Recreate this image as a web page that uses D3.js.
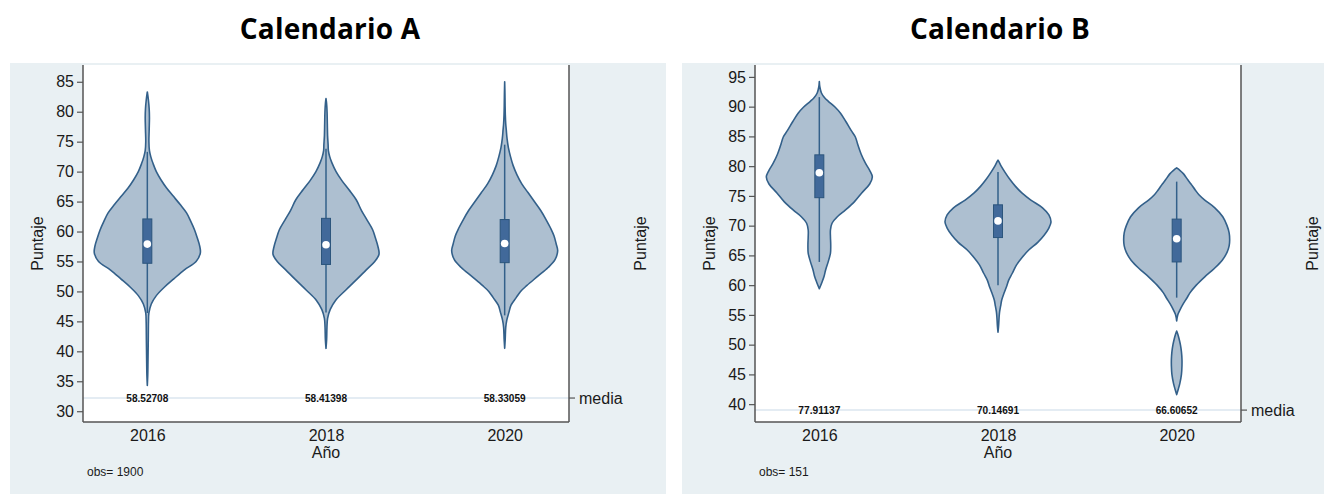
<!DOCTYPE html>
<html><head><meta charset="utf-8">
<script src="https://cdn.jsdelivr.net/npm/d3@7"></script>
<style>
html,body{margin:0;padding:0;background:#fff;}
svg{display:block;}
</style>
</head><body>
<svg id="chart" width="1324" height="494"></svg>
<script>
// ---------------- DATA ----------------
const years = [2016, 2018, 2020];
const yearLabels = ["2016", "2018", "2020"];
const titles = ["Calendario A", "Calendario B"];
const obsCounts = ["obs= 1900", "obs= 151"];
const meanLabelsA = ["58.52708", "58.41398", "58.33059"];
const meanLabelsB = ["77.91137", "70.14691", "66.60652"];
const meanLevelA = 32.2;   // score level where the "media" row sits
const meanLevelB = 39.0;
const yDomainA = [28.2, 87.8];
const yDomainB = [37.0, 97.0];
const yTicksA = [30, 35, 40, 45, 50, 55, 60, 65, 70, 75, 80, 85];
const yTicksB = [40, 45, 50, 55, 60, 65, 70, 75, 80, 85, 90, 95];

// box stats per year: [whiskerLow, q1, median, q3, whiskerHigh]
const boxA = [
  [46.4, 54.7, 57.9, 62.1, 73.3],
  [46.5, 54.5, 57.8, 62.2, 73.8],
  [46.0, 54.8, 58.0, 62.0, 74.5]
];
const boxB = [
  [63.9, 74.7, 78.9, 81.9, 91.6],
  [60.0, 68.0, 70.8, 73.5, 79.0],
  [57.9, 63.9, 67.8, 71.1, 77.4]
];

// relative kernel density profiles [score, density]
const densA2016 = [[34.3,0],[36,0.008],[38,0.012],[40,0.015],[42,0.018],[44,0.02],[45,0.022],[46.4,0.03],[47.9,0.075],[49.3,0.17],[50.7,0.32],[52.1,0.5],[53.6,0.7],[55,0.92],[56.4,1.0],[57.5,0.99],[59,0.94],[60.3,0.89],[61.7,0.82],[63.1,0.74],[64.5,0.62],[66,0.48],[67.3,0.36],[68.6,0.26],[70,0.17],[71.3,0.11],[72.5,0.065],[73.5,0.04],[75,0.03],[77,0.035],[79,0.04],[80.5,0.035],[82,0.02],[83.3,0]];
const densA2018 = [[40.5,0],[42,0.012],[44,0.018],[45.5,0.03],[47,0.08],[48.5,0.18],[50.2,0.37],[52,0.58],[53.6,0.76],[55,0.92],[56.2,1.0],[57.5,0.98],[59,0.93],[60.3,0.88],[62,0.77],[63.5,0.67],[65.3,0.57],[67,0.43],[68.5,0.3],[70,0.19],[71.5,0.11],[72.5,0.07],[73.5,0.045],[74.5,0.04],[76,0.03],[78,0.025],[80,0.02],[81.5,0.01],[82.2,0]];
const densA2020 = [[40.5,0],[42,0.01],[44,0.02],[45.2,0.04],[46.5,0.08],[47.7,0.12],[49,0.22],[50,0.3],[51,0.42],[52.5,0.62],[54,0.82],[55.3,0.95],[56.8,1.0],[58,0.97],[59.3,0.93],[60.5,0.87],[62,0.78],[63.5,0.68],[65,0.56],[66.5,0.44],[68,0.32],[69.5,0.23],[71,0.16],[72.5,0.11],[74,0.07],[75.5,0.045],[77,0.03],[78,0.02],[79.5,0.012],[81,0.008],[83,0.005],[85,0]];
const densB2016 = [[59.4,0],[60.5,0.05],[61.5,0.09],[62.6,0.12],[64,0.17],[65.4,0.21],[66.8,0.215],[68.1,0.21],[69.3,0.21],[70.4,0.24],[71.5,0.34],[72.6,0.49],[74,0.66],[75.5,0.8],[77,0.95],[78.2,1.0],[79.3,0.95],[80.5,0.87],[82,0.79],[83.5,0.73],[84.9,0.68],[86,0.6],[87.5,0.5],[88.9,0.4],[89.9,0.3],[90.9,0.17],[91.5,0.1],[92.3,0.04],[93.3,0.01],[94.2,0]];
const densB2018 = [[52.1,0],[53,0.01],[54.5,0.02],[55.5,0.03],[56.5,0.05],[57.5,0.07],[58.8,0.12],[60,0.17],[60.8,0.2],[62,0.27],[63.4,0.35],[64.6,0.45],[65.9,0.58],[67.2,0.75],[68.4,0.87],[69.6,0.96],[70.6,1.0],[71.8,0.96],[73,0.84],[74.3,0.62],[75.5,0.45],[76.6,0.33],[77.7,0.23],[79,0.13],[80,0.06],[80.7,0.02],[81,0]];
const densB2020 = [[41.6,0],[42.5,0.03],[43.5,0.06],[45,0.09],[46.5,0.1],[47.5,0.1],[48.8,0.09],[50,0.07],[51,0.045],[51.8,0.02],[52.3,0],[53.2,0],[54.0,0],[55,0.02],[55.8,0.06],[56.8,0.12],[57.8,0.19],[58.7,0.25],[60,0.37],[61.4,0.53],[62.8,0.71],[64.2,0.86],[65.5,0.95],[66.6,0.99],[67.6,1.0],[68.8,0.99],[70,0.95],[71.5,0.87],[73,0.72],[74.3,0.53],[75.2,0.42],[76,0.35],[77,0.27],[77.7,0.21],[78.7,0.13],[79.3,0.06],[79.7,0]];

const densA = [densA2016, densA2018, densA2020];
const densB = [densB2016, densB2018, densB2020];

// ---------------- DRAW ----------------
const svg = d3.select("#chart");
const FONT = "'Liberation Sans', Arial, sans-serif";
const C = {
  bg: "#e9f0f3", axis: "#555", text: "#1a1a1a",
  fill: "#adbfd0", stroke: "#33608a", box: "#41699a", boxStroke: "#2c557c",
  meanLine: "#dbe6ef"
};

const panels = [
  { bg:[10,63,656,431], plot:[83,65,569,422], title:330, yDomain:yDomainA, ticks:yTicksA,
    dens:densA, box:boxA, means:meanLabelsA, meanLevel:meanLevelA, obs:obsCounts[0], titleText:titles[0] },
  { bg:[682,63,642,431], plot:[755,65,1241,422], title:1000, yDomain:yDomainB, ticks:yTicksB,
    dens:densB, box:boxB, means:meanLabelsB, meanLevel:meanLevelB, obs:obsCounts[1], titleText:titles[1] }
];

function segments(arr){
  const segs = []; let cur = [];
  arr.forEach(p => {
    cur.push(p);
    if (p[1] === 0 && cur.length > 1) { segs.push(cur); cur = [p]; }
  });
  if (cur.length > 1) segs.push(cur);
  return segs.filter(s => s.some(p => p[1] > 0));
}

panels.forEach(P => {
  const [L, T, R, B] = P.plot;
  svg.append("rect").attr("x",P.bg[0]).attr("y",P.bg[1]).attr("width",P.bg[2]).attr("height",P.bg[3]).attr("fill",C.bg);
  svg.append("rect").attr("x",L).attr("y",T).attr("width",R-L).attr("height",B-T).attr("fill","#fff");

  svg.append("text").attr("x",P.title).attr("y",39).attr("text-anchor","middle")
    .attr("font-family","'Open Sans', Lato, sans-serif").attr("font-weight",700).attr("font-size",28)
    .attr("letter-spacing",0.2).attr("fill","#000").text(P.titleText);

  const x = d3.scaleLinear().domain([2015.28, 2020.72]).range([L, R]);
  const y = d3.scaleLinear().domain(P.yDomain).range([B, T]);
  const w = d3.scaleLinear().domain([0, 1]).range([0, 53]);

  svg.append("line").attr("x1",L).attr("x2",R).attr("y1",y(P.meanLevel)).attr("y2",y(P.meanLevel))
    .attr("stroke",C.meanLine).attr("stroke-width",1.5);

  years.forEach((yr, i) => {
    const cx = x(yr);
    const area = d3.area().curve(d3.curveCatmullRom.alpha(0.5))
      .y(d => y(d[0])).x0(d => cx - w(d[1])).x1(d => cx + w(d[1]));
    segments(P.dens[i]).forEach(seg => {
      svg.append("path").attr("d", area(seg)).attr("fill",C.fill)
        .attr("stroke",C.stroke).attr("stroke-width",1.6).attr("stroke-linejoin","round");
    });
    const b = P.box[i];
    svg.append("line").attr("x1",cx).attr("x2",cx).attr("y1",y(b[0])).attr("y2",y(b[4]))
      .attr("stroke",C.stroke).attr("stroke-width",1.5);
    svg.append("rect").attr("x",cx-4.5).attr("width",9).attr("y",y(b[3])).attr("height",y(b[1])-y(b[3]))
      .attr("fill",C.box).attr("stroke",C.boxStroke).attr("stroke-width",1);
    svg.append("circle").attr("cx",cx).attr("cy",y(b[2])).attr("r",3.8).attr("fill","#fff");

    svg.append("text").attr("x",cx).attr("y",y(P.meanLevel)+4).attr("text-anchor","middle")
      .attr("font-family",FONT).attr("font-weight",700).attr("font-size",11)
      .attr("textLength",42).attr("lengthAdjust","spacingAndGlyphs")
      .attr("fill","#111").text(P.means[i]);
  });

  const yAxis = d3.axisLeft(y).tickValues(P.ticks).tickSize(6).tickPadding(3).tickFormat(d3.format("d"));
  const gy = svg.append("g").attr("transform",`translate(${L},0)`).call(yAxis);
  gy.select(".domain").attr("d",`M0,${T}V${B}`).attr("stroke",C.axis).attr("stroke-width",1.5);
  gy.selectAll(".tick line").attr("stroke",C.axis).attr("stroke-width",1.2);
  gy.selectAll("text").attr("font-family",FONT).attr("font-size",16).attr("fill",C.text);

  const xAxis = d3.axisBottom(x).tickValues(years).tickSize(0).tickPadding(8).tickFormat((d,i)=>yearLabels[i]);
  const gx = svg.append("g").attr("transform",`translate(0,${B})`).call(xAxis);
  gx.select(".domain").attr("d",`M${L},0H${R}`).attr("stroke",C.axis).attr("stroke-width",1.5);
  gx.selectAll("text").attr("font-family",FONT).attr("font-size",16).attr("fill",C.text);

  svg.append("line").attr("x1",R).attr("x2",R).attr("y1",T).attr("y2",B).attr("stroke",C.axis).attr("stroke-width",1.5);
  svg.append("line").attr("x1",R).attr("x2",R+6).attr("y1",y(P.meanLevel)).attr("y2",y(P.meanLevel)).attr("stroke",C.axis).attr("stroke-width",1.2);
  svg.append("text").attr("x",R+10).attr("y",y(P.meanLevel)+5.5).attr("font-family",FONT).attr("font-size",16)
    .attr("fill",C.text).text("media");

  const midY = (T + B) / 2;
  svg.append("text").attr("transform",`translate(${L-40},${midY}) rotate(-90)`).attr("text-anchor","middle")
    .attr("font-family",FONT).attr("font-size",16).attr("fill",C.text).text("Puntaje");
  svg.append("text").attr("transform",`translate(${R+77},${midY}) rotate(-90)`).attr("text-anchor","middle")
    .attr("font-family",FONT).attr("font-size",16).attr("fill",C.text).text("Puntaje");
  svg.append("text").attr("x",(L+R)/2).attr("y",B+36).attr("text-anchor","middle")
    .attr("font-family",FONT).attr("font-size",16).attr("fill",C.text).text("Año");
  svg.append("text").attr("x",L+4).attr("y",B+54).attr("font-family",FONT).attr("font-size",12)
    .attr("fill",C.text).text(P.obs);
});
</script>
</body></html>
